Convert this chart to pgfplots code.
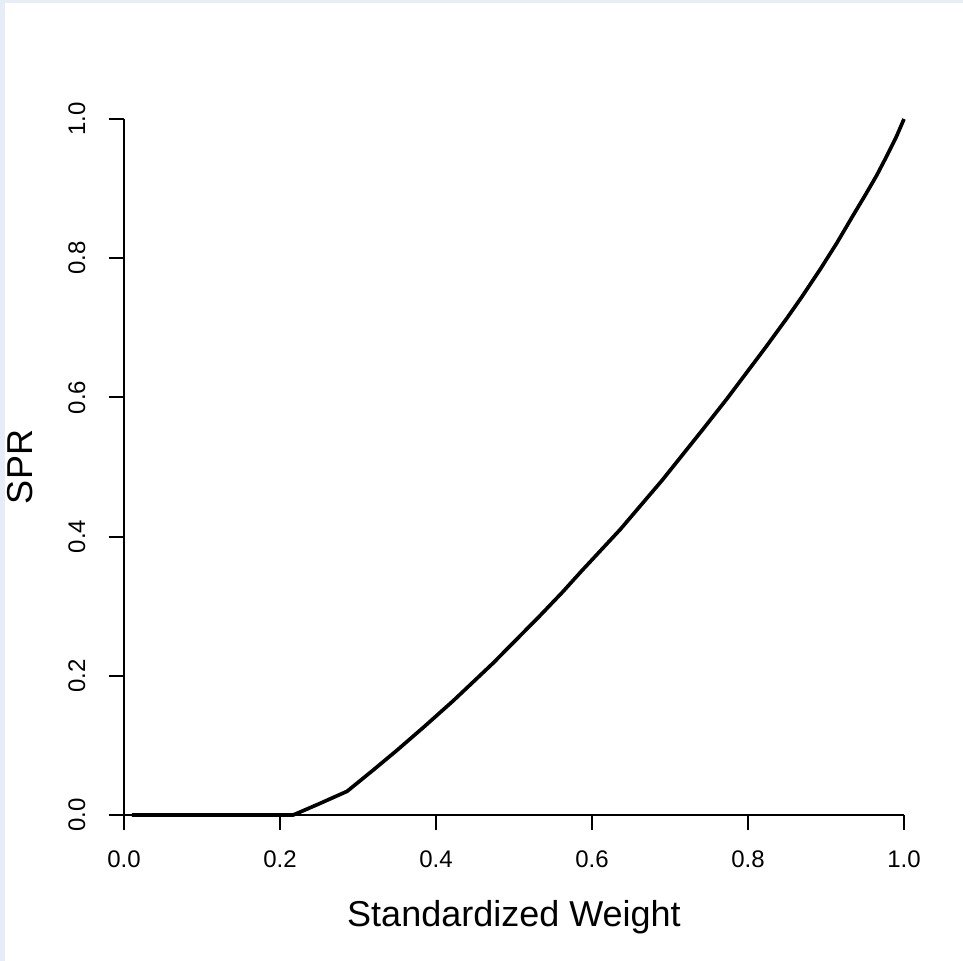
\documentclass[border=0pt]{standalone}
\usepackage{fontspec}
\setmainfont{Liberation Sans}
\usepackage{pgfplots}
\pgfplotsset{compat=1.18}

\definecolor{framebg}{RGB}{231,237,247}

% SPR curve
\pgfplotstableread{
x      y
0.010  0.000
0.100  0.000
0.217  0.000
0.250  0.016
0.286  0.034
0.320  0.065
0.350  0.093
0.385  0.127
0.422  0.164
0.473  0.218
0.533  0.286
0.562  0.320
0.587  0.351
0.636  0.410
0.690  0.481
0.700  0.495
0.740  0.551
0.773  0.598
0.822  0.671
0.850  0.714
0.870  0.746
0.892  0.783
0.914  0.822
0.935  0.862
0.950  0.890
0.965  0.919
0.978  0.947
0.990  0.974
1.000  1.000
}\sprdata

\begin{document}
\begin{tikzpicture}
% page background with the light frame on the left and top edges
\fill[framebg] (-37.2pt,-43.8pt) rectangle (251.7pt,244.5pt);
\fill[white] (-35.7pt,-43.8pt) rectangle (251.7pt,243.6pt);
\begin{axis}[
    at={(0pt,0pt)}, anchor=origin,
    width=234pt, height=208.8pt, scale only axis,
    xmin=0, xmax=1, ymin=0, ymax=1,
    axis x line*=bottom, axis y line*=left,
    axis line style={-, line width=0.6pt, black},
    xtick={0,0.2,...,1.0}, ytick={0,0.2,...,1.0},
    tick align=outside, major tick length=4.6pt,
    tick style={line width=0.6pt, black},
    /pgf/number format/assume math mode=true,
    /pgf/number format/fixed, /pgf/number format/fixed zerofill,
    /pgf/number format/precision=1,
    xticklabel style={font=\fontsize{7.2}{8}\selectfont, anchor=north, inner sep=0pt},
    yticklabel style={font=\fontsize{7.2}{8}\selectfont, rotate=90, anchor=south, inner sep=0pt},
    xticklabel shift=5.9pt, yticklabel shift=6.8pt,
    xlabel={Standardized Weight}, ylabel={SPR},
    xlabel style={font=\fontsize{10.8}{12}\selectfont, at={(axis description cs:0.5,-0.1609)}, anchor=base, inner sep=0pt},
    ylabel style={font=\fontsize{10.8}{12}\selectfont, at={(axis description cs:-0.1179,0.5)}, anchor=base, inner sep=0pt},
    clip=false,
]
\addplot[black, line width=1.1pt, line join=round] table[x=x, y=y] {\sprdata};
\end{axis}
\end{tikzpicture}
\end{document}
